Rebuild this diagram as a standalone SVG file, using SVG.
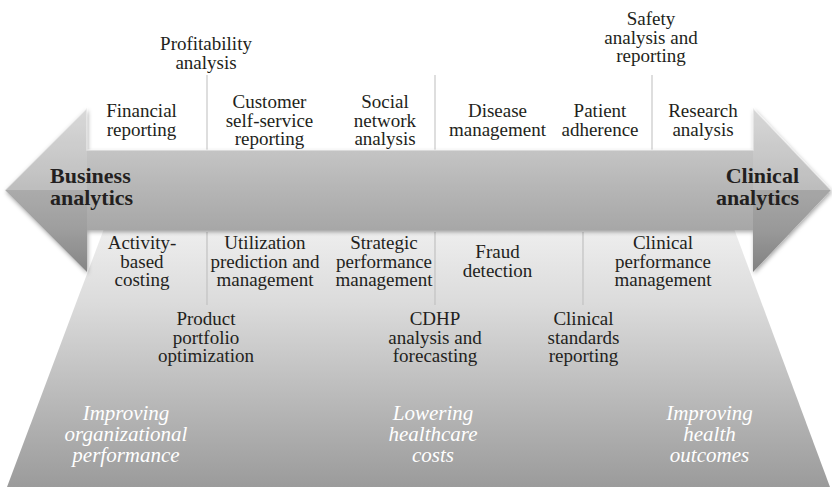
<svg xmlns="http://www.w3.org/2000/svg" width="832" height="487" viewBox="0 0 832 487">
<defs>
<linearGradient id="trapGrad" gradientUnits="userSpaceOnUse" x1="0" y1="226" x2="0" y2="487">
<stop offset="0" stop-color="#efefef"/>
<stop offset="0.3" stop-color="#dbdbdb"/>
<stop offset="0.6" stop-color="#bfbfbf"/>
<stop offset="1" stop-color="#9b9b9b"/>
</linearGradient>
<linearGradient id="arrowGrad" gradientUnits="userSpaceOnUse" x1="0" y1="108" x2="0" y2="272">
<stop offset="0" stop-color="#d4d4d4"/>
<stop offset="0.26" stop-color="#c4c4c4"/>
<stop offset="0.5" stop-color="#b5b5b5"/>
<stop offset="0.74" stop-color="#a7a7a7"/>
<stop offset="1" stop-color="#8c8c8c"/>
</linearGradient>
<filter id="shadow" x="-5%" y="-10%" width="110%" height="130%">
<feDropShadow dx="1" dy="2" stdDeviation="2" flood-color="#000" flood-opacity="0.35"/>
</filter>
</defs>
<style>
text { font-family: 'Liberation Serif', 'Times New Roman', serif; }
.lbl { font-size: 19px; fill: #231f20; text-anchor: middle; }
.bold { font-size: 22px; font-weight: bold; fill: #231f20; }
.goal { font-size: 21px; font-style: italic; fill: #ffffff; text-anchor: middle; }
.sep { stroke: #cdcdcd; stroke-width: 1.3; }
.sep2 { stroke: #c4c4c4; stroke-width: 1.3; }
</style>
<rect x="0" y="0" width="832" height="487" fill="#ffffff"/>

<g id="trapezoid">
<polygon points="105,226 733,226 830,487 7,487" fill="url(#trapGrad)"/>
</g>

<g id="separators">
<line class="sep" x1="207" y1="75" x2="207" y2="150"/>
<line class="sep" x1="435" y1="75" x2="435" y2="150"/>
<line class="sep" x1="652" y1="75" x2="652" y2="150"/>
<line class="sep2" x1="207" y1="232" x2="207" y2="305"/>
<line class="sep2" x1="435" y1="232" x2="435" y2="305"/>
<line class="sep2" x1="583" y1="232" x2="583" y2="305"/>
</g>

<g id="arrow">
<path d="M5,190 L87,108 L87,150 L753,150 L753,108 L831,190 L753,272 L753,230 L87,230 L87,272 Z" fill="url(#arrowGrad)" filter="url(#shadow)"/>
<polygon points="5,190 87,108 87,190" fill="#ffffff" opacity="0.12"/>
<polygon points="5,190 87,272 87,190" fill="#000000" opacity="0.05"/>
<polygon points="831,190 753,108 753,190" fill="#ffffff" opacity="0.1"/>
<polygon points="831,190 753,272 753,190" fill="#000000" opacity="0.08"/>
<polyline points="5,190 87,108 87,150 753,150 753,108 831,190" fill="none" stroke="#ffffff" stroke-opacity="0.5" stroke-width="1.5"/>
</g>

<g id="business-analytics">
<text class="bold"><tspan x="50" y="183">Business</tspan><tspan x="50" y="204.5">analytics</tspan></text>
</g>
<g id="clinical-analytics">
<text class="bold" text-anchor="end"><tspan x="799" y="183">Clinical</tspan><tspan x="799" y="204.5">analytics</tspan></text>
</g>

<g id="profitability-analysis">
<text class="lbl"><tspan x="206" y="50">Profitability</tspan><tspan x="206" y="68.5">analysis</tspan></text>
</g>
<g id="safety-analysis">
<text class="lbl"><tspan x="651" y="25">Safety</tspan><tspan x="651" y="43.5">analysis and</tspan><tspan x="651" y="62">reporting</tspan></text>
</g>
<g id="financial-reporting">
<text class="lbl"><tspan x="141.5" y="117">Financial</tspan><tspan x="141.5" y="135.5">reporting</tspan></text>
</g>
<g id="customer-self-service">
<text class="lbl"><tspan x="269.5" y="108">Customer</tspan><tspan x="269.5" y="126.5">self-service</tspan><tspan x="269.5" y="145">reporting</tspan></text>
</g>
<g id="social-network">
<text class="lbl"><tspan x="385" y="108">Social</tspan><tspan x="385" y="126.5">network</tspan><tspan x="385" y="145">analysis</tspan></text>
</g>
<g id="disease-management">
<text class="lbl"><tspan x="497.5" y="117">Disease</tspan><tspan x="497.5" y="135.5">management</tspan></text>
</g>
<g id="patient-adherence">
<text class="lbl"><tspan x="600" y="117">Patient</tspan><tspan x="600" y="135.5">adherence</tspan></text>
</g>
<g id="research-analysis">
<text class="lbl"><tspan x="703" y="117">Research</tspan><tspan x="703" y="135.5">analysis</tspan></text>
</g>

<g id="activity-based-costing">
<text class="lbl"><tspan x="142" y="249">Activity-</tspan><tspan x="142" y="267.5">based</tspan><tspan x="142" y="286">costing</tspan></text>
</g>
<g id="utilization-prediction">
<text class="lbl"><tspan x="265" y="249">Utilization</tspan><tspan x="265" y="267.5">prediction and</tspan><tspan x="265" y="286">management</tspan></text>
</g>
<g id="strategic-performance">
<text class="lbl"><tspan x="384" y="249">Strategic</tspan><tspan x="384" y="267.5">performance</tspan><tspan x="384" y="286">management</tspan></text>
</g>
<g id="fraud-detection">
<text class="lbl"><tspan x="497.5" y="258">Fraud</tspan><tspan x="497.5" y="276.5">detection</tspan></text>
</g>
<g id="clinical-performance">
<text class="lbl"><tspan x="663" y="249">Clinical</tspan><tspan x="663" y="267.5">performance</tspan><tspan x="663" y="286">management</tspan></text>
</g>
<g id="product-portfolio">
<text class="lbl"><tspan x="206" y="325">Product</tspan><tspan x="206" y="343.5">portfolio</tspan><tspan x="206" y="362">optimization</tspan></text>
</g>
<g id="cdhp-analysis">
<text class="lbl"><tspan x="435" y="325">CDHP</tspan><tspan x="435" y="343.5">analysis and</tspan><tspan x="435" y="362">forecasting</tspan></text>
</g>
<g id="clinical-standards">
<text class="lbl"><tspan x="583.5" y="325">Clinical</tspan><tspan x="583.5" y="343.5">standards</tspan><tspan x="583.5" y="362">reporting</tspan></text>
</g>

<g id="goal-organizational">
<text class="goal"><tspan x="126" y="420">Improving</tspan><tspan x="126" y="441">organizational</tspan><tspan x="126" y="462">performance</tspan></text>
</g>
<g id="goal-costs">
<text class="goal"><tspan x="433" y="420">Lowering</tspan><tspan x="433" y="441">healthcare</tspan><tspan x="433" y="462">costs</tspan></text>
</g>
<g id="goal-health">
<text class="goal"><tspan x="709.5" y="420">Improving</tspan><tspan x="709.5" y="441">health</tspan><tspan x="709.5" y="462">outcomes</tspan></text>
</g>
</svg>
